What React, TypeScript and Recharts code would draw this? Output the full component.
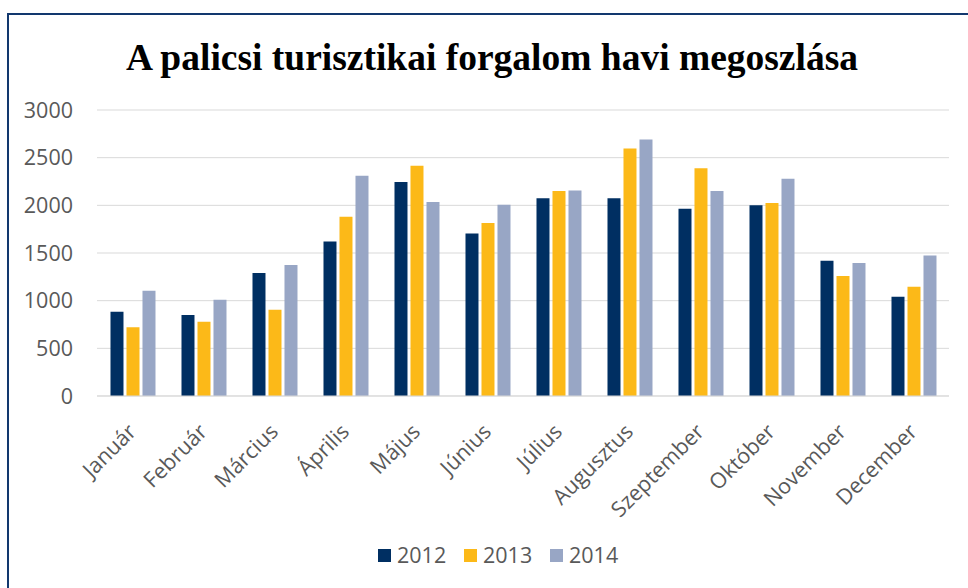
import { Bar, BarChart, CartesianGrid, Legend, XAxis, YAxis } from 'recharts';

const honapok = [
  'Január',
  'Február',
  'Március',
  'Április',
  'Május',
  'Június',
  'Július',
  'Augusztus',
  'Szeptember',
  'Október',
  'November',
  'December',
];

const ev2012 = [885, 850, 1290, 1620, 2245, 1705, 2075, 2075, 1965, 2000, 1420, 1040];
const ev2013 = [720, 780, 905, 1880, 2415, 1815, 2150, 2595, 2390, 2025, 1260, 1145];
const ev2014 = [1105, 1010, 1375, 2310, 2035, 2005, 2155, 2690, 2150, 2280, 1395, 1475];

const yTicks = [0, 500, 1000, 1500, 2000, 2500, 3000];

const sorozatok = [
  { key: '2012', color: '#002F62' },
  { key: '2013', color: '#FCB918' },
  { key: '2014', color: '#98A6C5' },
];

const data = honapok.map((h, i) => ({
  honap: h,
  '2012': ev2012[i],
  '2013': ev2013[i],
  '2014': ev2014[i],
}));

const szoveg = '#595959';
const betu = "'Open Sans', sans-serif";

const HonapTick = ({ x, y, payload }: any) => (
  <g transform={`translate(${x + 5},${y + 29})`}>
    <text
      transform="rotate(-45)"
      textAnchor="end"
      fill={szoveg}
      fontSize={21.5}
      fontFamily={betu}
    >
      {payload.value}
    </text>
  </g>
);

const Jelmagyarazat = () => (
  <div style={{ display: 'flex', fontFamily: betu, fontSize: 21.5, color: szoveg }}>
    {sorozatok.map((s) => (
      <div
        key={s.key}
        style={{ width: 86, display: 'flex', alignItems: 'center', lineHeight: '24px' }}
      >
        <span
          style={{
            display: 'inline-block',
            width: 13,
            height: 13,
            background: s.color,
            marginRight: 6,
          }}
        />
        <span>{s.key}</span>
      </div>
    ))}
  </div>
);

const App = () => {
  return (
    <div
      style={{
        position: 'fixed',
        left: 0,
        top: 0,
        width: 968,
        height: 588,
        overflow: 'hidden',
        background: '#fff',
      }}
    >
      <div
        style={{
          position: 'absolute',
          left: 7,
          top: 13,
          width: 1000,
          height: 640,
          border: '2px solid #12386E',
        }}
      />
      <svg
        width={968}
        height={100}
        style={{ position: 'absolute', left: 0, top: 0 }}
      >
        <text
          x={492}
          y={70}
          textAnchor="middle"
          fontFamily="'Liberation Serif', 'Times New Roman', serif"
          fontWeight="bold"
          fontSize={38}
          textLength={732}
          lengthAdjust="spacingAndGlyphs"
          fill="#000"
        >
          A palicsi turisztikai forgalom havi megoszlása
        </text>
      </svg>
      <div style={{ position: 'absolute', left: 0, top: 0 }}>
        <BarChart
          width={968}
          height={588}
          data={data}
          margin={{ top: 110, right: 19, bottom: 92, left: 0 }}
          barCategoryGap="19%"
          barGap={3}
          style={{ fontFamily: betu }}
        >
          <CartesianGrid vertical={false} stroke="#D9D9D9" strokeWidth={1} />
          <XAxis
            dataKey="honap"
            height={100}
            interval={0}
            tickLine={false}
            axisLine={{ stroke: '#D9D9D9' }}
            tick={<HonapTick />}
          />
          <YAxis
            width={97}
            domain={[0, 3000]}
            ticks={yTicks}
            tickLine={false}
            axisLine={false}
            tickMargin={18}
            tick={{ fill: szoveg, fontSize: 21.5, fontFamily: betu }}
          />
          <Legend
            layout="horizontal"
            verticalAlign="middle"
            align="center"
            wrapperStyle={{ position: 'absolute', left: 378, top: 543, width: 270 }}
            content={<Jelmagyarazat />}
          />
          {sorozatok.map((s) => (
            <Bar
              key={s.key}
              dataKey={s.key}
              fill={s.color}
              isAnimationActive={false}
            />
          ))}
        </BarChart>
      </div>
    </div>
  );
};

export default App;
